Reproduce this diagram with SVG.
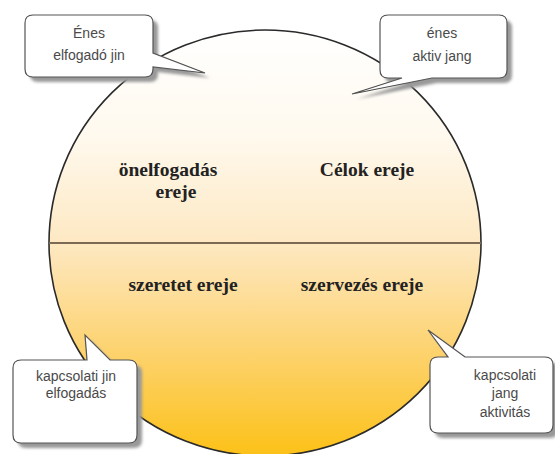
<svg xmlns="http://www.w3.org/2000/svg" width="555" height="454" viewBox="0 0 555 454">
<defs>
<linearGradient id="g" x1="0" y1="0" x2="0" y2="1">
<stop offset="0" stop-color="#ffffff"/>
<stop offset="0.25" stop-color="#fff9ee"/>
<stop offset="0.5" stop-color="#fde8c2"/>
<stop offset="0.75" stop-color="#fdd370"/>
<stop offset="1" stop-color="#fcc117"/>
</linearGradient>
<filter id="blur" x="-10%" y="-10%" width="130%" height="130%"><feGaussianBlur stdDeviation="1.8"/></filter>
<style>
.inner{font-family:"Liberation Serif","Times New Roman",serif;font-weight:bold;font-size:19.5px;fill:#222;text-anchor:middle}
.call{font-family:"Liberation Sans",Arial,sans-serif;font-size:14px;fill:#4a4a4a;text-anchor:middle}
.box{fill:#ffffff;stroke:#555;stroke-width:1.2}
.shadow{fill:#999;filter:url(#blur)}
</style>
</defs>
<rect width="555" height="454" fill="#ffffff"/>
<g id="circle">
<ellipse cx="265" cy="243" rx="216" ry="213" fill="url(#g)" stroke="#2a2a2a" stroke-width="1.6"/>
</g>
<g id="connectors">
<line x1="49" y1="243" x2="481" y2="243" stroke="#7b6b55" stroke-width="2"/>
</g>
<g id="q1"><text class="inner" x="168" y="176">önelfogadás</text><text class="inner" x="176" y="198">ereje</text></g>
<g id="q2"><text class="inner" x="367" y="176">Célok ereje</text></g>
<g id="q3"><text class="inner" x="183" y="291">szeretet ereje</text></g>
<g id="q4"><text class="inner" x="362" y="291">szervezés ereje</text></g>
<g id="callout1">
<path id="c1" d="M33 15 H145 Q153 15 153 23 V53 L205 73 L153 67 V69 Q153 77 145 77 H33 Q25 77 25 69 V23 Q25 15 33 15 Z"/>
<use href="#c1" class="shadow" transform="translate(5,5)"/>
<use href="#c1" class="box"/>
<text class="call" x="89" y="38">Énes</text>
<text class="call" x="89" y="60">elfogadó jin</text>
</g>
<g id="callout2">
<path id="c2" d="M388 15 H499 Q507 15 507 23 V70 Q507 78 499 78 H432 L352 94 L402 78 H388 Q380 78 380 70 V23 Q380 15 388 15 Z"/>
<use href="#c2" class="shadow" transform="translate(5,5)"/>
<use href="#c2" class="box"/>
<text class="call" x="442" y="38">énes</text>
<text class="call" x="442" y="61">aktiv jang</text>
</g>
<g id="callout3">
<path id="c3" d="M21 360 H87 L85 335 L110 360 H129 Q137 360 137 368 V435 Q137 443 129 443 H21 Q13 443 13 435 V368 Q13 360 21 360 Z"/>
<use href="#c3" class="shadow" transform="translate(5,5)"/>
<use href="#c3" class="box"/>
<text class="call" x="76" y="381">kapcsolati jin</text>
<text class="call" x="76" y="398">elfogadás</text>
</g>
<g id="callout4">
<path id="c4" d="M438 357 H448 L428 330 L465 357 H545 Q553 357 553 365 V425 Q553 433 545 433 H438 Q430 433 430 425 V365 Q430 357 438 357 Z"/>
<use href="#c4" class="shadow" transform="translate(5,5)"/>
<use href="#c4" class="box"/>
<text class="call" x="505" y="380">kapcsolati</text>
<text class="call" x="505" y="398">jang</text>
<text class="call" x="505" y="417">aktivitás</text>
</g>
</svg>
